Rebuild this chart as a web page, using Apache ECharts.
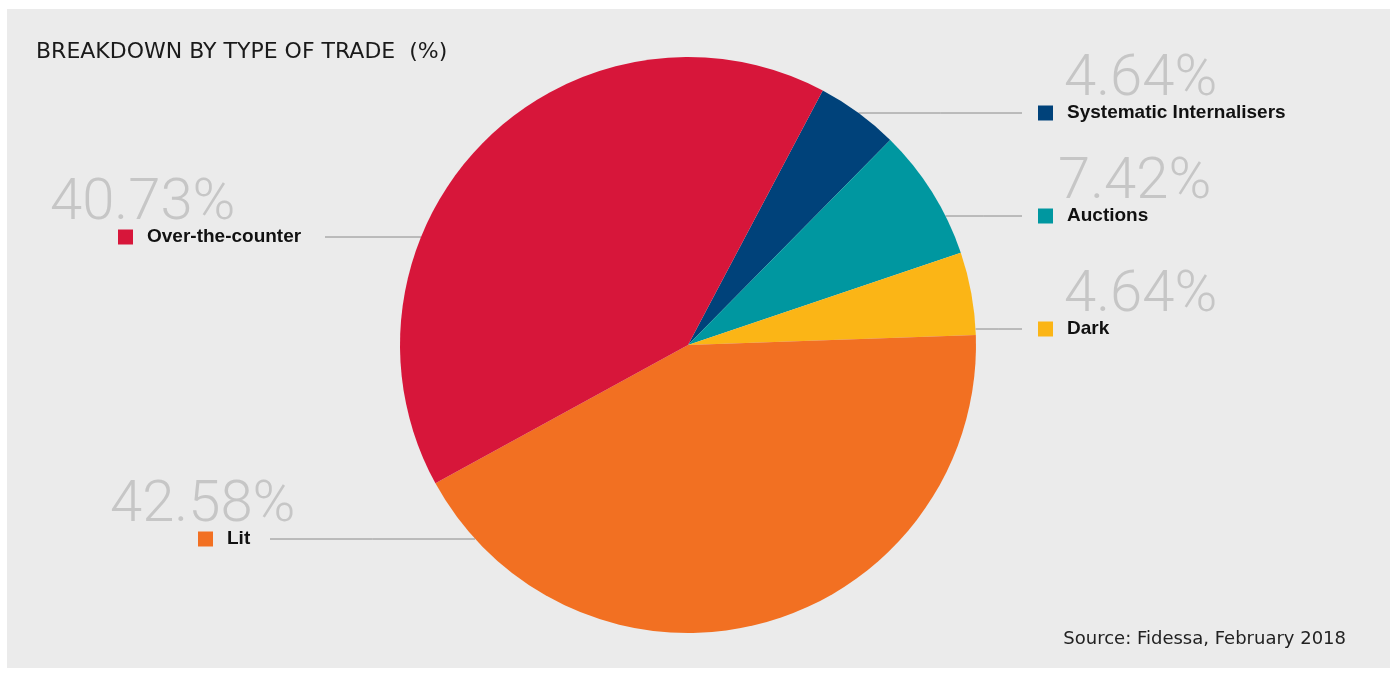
<!DOCTYPE html>
<html>
<head>
<meta charset="utf-8">
<script src="https://cdn.jsdelivr.net/npm/echarts@6/dist/echarts.min.js"></script>
<style>
  html, body { margin: 0; padding: 0; background: #fff; }
  #chart { width: 1393px; height: 673px; }
</style>
</head>
<body>
<div id="chart"></div>
<script>
// ===== Breakdown by type of trade =====
var names = ['Systematic Internalisers', 'Auctions', 'Dark', 'Lit', 'Over-the-counter'];
var values = [4.64, 7.42, 4.64, 42.58, 40.73];
var colors = ['#00427a', '#0097a0', '#fbb516', '#f27022', '#d7163a'];

// label placement: anchor x, offset of the % line, offset of the marker, name line centre y, line end x
var place = [
  { x: 1038, pOff: 26, mOff: 0, y: 113, lineX: 1022 },
  { x: 1038, pOff: 20, mOff: 0, y: 216, lineX: 1022 },
  { x: 1038, pOff: 26, mOff: 0, y: 329, lineX: 1022 },
  { x: 110, pOff: 0, mOff: 88, y: 539, lineX: 270 },
  { x: 50, pOff: 0, mOff: 68, y: 237, lineX: 325 }
];

var cx = 688, cy = 345, R = 288;

var chart = echarts.init(document.getElementById('chart'), null, { renderer: 'canvas' });

var pieData = names.map(function(n, i) {
  return {
    name: n,
    value: values[i],
    itemStyle: { color: colors[i] },
    label: {
      formatter: '{p|' + values[i].toFixed(2) + '%}\n{s|}{m|}{n|' + n + '}',
      rich: {
        p: { fontFamily: 'Roboto', fontSize: 58, fontWeight: 300, color: '#c6c6c6', lineHeight: 44, padding: [0, 0, 0, place[i].pOff] },
        s: { width: place[i].mOff, height: 14 },
        m: { width: 15, height: 15, backgroundColor: colors[i] },
        n: { fontFamily: 'Liberation Sans', fontSize: 19, fontWeight: 'bold', color: '#111', lineHeight: 22, padding: [0, 0, 0, 14] }
      }
    }
  };
});

chart.setOption({
  animation: false,
  backgroundColor: '#ffffff',
  graphic: [
    { type: 'rect', z: -10, silent: true, shape: { x: 7, y: 9, width: 1383, height: 659 }, style: { fill: '#ebebeb' } }
  ],
  title: [
    {
      text: 'BREAKDOWN BY TYPE OF TRADE  (%)',
      left: 31, top: 36,
      textStyle: { fontFamily: 'DejaVu Sans', fontSize: 22, fontWeight: 'normal', color: '#1a1a1a' }
    },
    {
      text: 'Source: Fidessa, February 2018',
      right: 42, top: 625,
      textStyle: { fontFamily: 'DejaVu Sans', fontSize: 18, fontWeight: 'normal', color: '#222' }
    }
  ],
  series: [{
    type: 'pie',
    center: [cx, cy],
    radius: R,
    startAngle: 62.1,
    clockwise: true,
    silent: true,
    avoidLabelOverlap: false,
    emphasis: { disabled: true },
    data: pieData,
    label: { show: true, position: 'outer', alignTo: 'none' },
    labelLine: { show: true, length: 10, length2: 10, lineStyle: { color: '#8a8a8a', width: 1 } },
    labelLayout: function(params) {
      var p = place[params.dataIndex];
      var dy = p.y - cy;
      var dx = Math.sqrt(R * R - dy * dy);
      var edgeX = p.x > cx ? cx + dx : cx - dx;
      return {
        x: p.x,
        y: p.y + 11,
        align: 'left',
        verticalAlign: 'bottom',
        labelLinePoints: [[edgeX, p.y], [(edgeX + p.lineX) / 2, p.y], [p.lineX, p.y]]
      };
    }
  }]
});
window.addEventListener('resize', function() { chart.resize(); });
</script>
</body>
</html>
